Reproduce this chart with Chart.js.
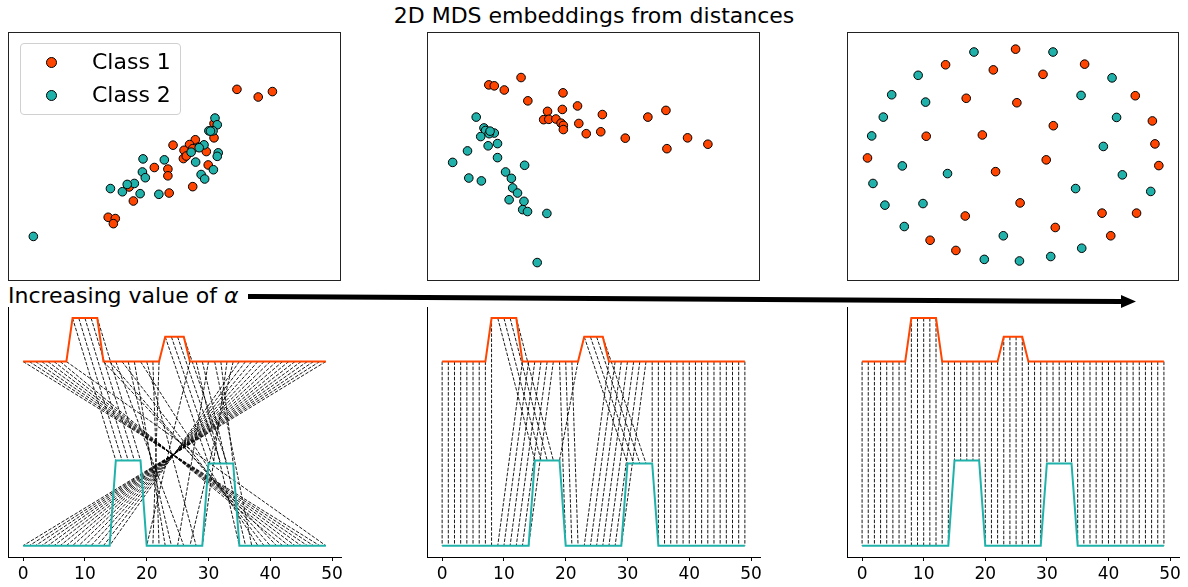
<!DOCTYPE html>
<html>
<head>
<meta charset="utf-8">
<script src="https://cdn.jsdelivr.net/npm/chart.js@4.4.0/dist/chart.umd.min.js"></script>
<style>
  body { margin: 0; width: 1188px; height: 587px; background: #fff; position: relative; overflow: hidden; font-family: 'DejaVu Sans', sans-serif; }
  .abs { position: absolute; }
  .box { position: absolute; box-sizing: border-box; border: 1px solid #222; }
  .box canvas { display: block; }
  #title { left: 0; width: 1188px; top: 5px; text-align: center; font-size: 22px; line-height: 22px; color: #000; }
  #alphaLabel { left: 8px; top: 285px; font-size: 22px; line-height: 22px; color: #000; }
  .legend { left: 20px; top: 43px; width: 161px; height: 72px; box-sizing: border-box; border: 1px solid #d0d0d0; border-radius: 4px; background: rgba(255,255,255,0.85); }
  .legend .dot { position: absolute; width: 9px; height: 9px; border: 1px solid #000; border-radius: 50%; }
  .legend .lbl { position: absolute; font-size: 22px; line-height: 22px; color: #000; }
</style>
</head>
<body>
<div id="title" class="abs">2D MDS embeddings from distances</div>

<div class="box" style="left:8px;top:32px;width:333px;height:249px"><canvas id="mds1" width="331" height="247"></canvas></div>
<div class="box" style="left:427px;top:32px;width:333px;height:249px"><canvas id="mds2" width="331" height="247"></canvas></div>
<div class="box" style="left:847px;top:32px;width:332px;height:249px"><canvas id="mds3" width="330" height="247"></canvas></div>

<div class="legend abs">
  <div class="dot" style="left:25px;top:13px;background:#ff4500"></div>
  <div class="lbl" style="left:71px;top:7px">Class 1</div>
  <div class="dot" style="left:25px;top:46px;background:#20b2aa"></div>
  <div class="lbl" style="left:71px;top:40px">Class 2</div>
</div>

<div id="alphaLabel" class="abs">Increasing value of <i>α</i></div>
<svg class="abs" style="left:0;top:0" width="1188" height="587">
  <polygon points="248,294 1121,299 1121,295 1136,301.5 1121,308 1121,304 248,299" fill="#000"/>
</svg>

<canvas id="plan1" class="abs" style="left:0px;top:295px" width="360" height="292"></canvas>
<canvas id="plan2" class="abs" style="left:415px;top:295px" width="360" height="292"></canvas>
<canvas id="plan3" class="abs" style="left:835px;top:295px" width="353" height="292"></canvas>

<script>
const ORANGE = '#ff4500';
const TEAL = '#20b2aa';

// MDS embeddings (arbitrary units, y grows downwards)
const mds1Class1 = [[717,199],[783,223],[827,206],[646,306],[646,351],[519,374],[588,357],[570,372],[553,390],[622,394],[551,416],[461,444],[503,449],[503,470],[628,436],[580,504],[507,524],[396,549],[383,505],[318,600],[340,604],[334,620],[598,380],[580,385],[560,408]];
const mds1Class2 = [[649,289],[656,310],[630,329],[643,329],[615,373],[600,382],[575,396],[659,398],[656,409],[589,427],[426,417],[492,420],[424,458],[433,476],[606,466],[617,480],[644,451],[399,494],[377,497],[325,510],[362,520],[417,526],[475,528],[86,660],[635,330]];

const mds2Class1 = [[296,162],[196,185],[213,188],[244,201],[317,235],[426,210],[378,268],[424,262],[471,251],[548,278],[366,294],[382,293],[404,292],[420,305],[427,312],[427,325],[475,306],[498,338],[543,332],[619,352],[689,286],[745,265],[748,385],[812,351],[875,371]];
const mds2Class2 = [[157,286],[181,320],[186,328],[213,336],[197,338],[171,347],[194,376],[223,369],[130,392],[223,413],[84,428],[307,437],[134,477],[173,486],[248,458],[266,478],[270,508],[285,524],[259,545],[305,550],[301,576],[316,582],[376,588],[346,742],[200,330]];

const mds3Class1 = [[527,73],[310,122],[458,138],[612,152],[741,120],[898,219],[374,227],[531,241],[951,298],[644,313],[250,346],[424,342],[959,370],[68,414],[622,420],[971,438],[465,457],[541,555],[371,596],[795,587],[902,587],[650,632],[262,672],[822,658],[342,704]];
const mds3Class2 = [[398,82],[643,82],[225,155],[826,163],[143,216],[248,239],[730,218],[117,286],[840,287],[81,345],[799,378],[176,439],[316,463],[858,467],[85,494],[713,510],[946,519],[122,562],[240,557],[182,629],[489,658],[732,697],[430,732],[539,737],[636,723]];

const mds1XLim = [27, 1020], mds2XLim = [24, 1017], mds3XLim = [24, 1014];
const mdsYLim = [39, 780];

// Source (top, shifted up) and target (bottom) signals
const sourceSignal = [2.16,2.16,2.16,2.16,2.16,2.16,2.16,2.16,2.67,2.67,2.67,2.67,2.67,2.16,2.16,2.16,2.16,2.16,2.16,2.16,2.16,2.16,2.16,2.45,2.45,2.45,2.45,2.16,2.16,2.16,2.16,2.16,2.16,2.16,2.16,2.16,2.16,2.16,2.16,2.16,2.16,2.16,2.16,2.16,2.16,2.16,2.16,2.16,2.16,2.16];
const targetSignal = [0,0,0,0,0,0,0,0,0,0,0,0,0,0,0,1,1,1,1,1,0,0,0,0,0,0,0,0,0,0,0.965,0.965,0.965,0.965,0.965,0,0,0,0,0,0,0,0,0,0,0,0,0,0,0];

// Transport plans: target index matched to each source index
const plan1 = [48,47,46,45,44,43,42,49,15,16,17,18,19,41,40,26,39,24,23,38,28,22,21,30,31,32,33,20,35,36,25,37,34,29,27,14,13,12,11,10,9,8,7,6,5,4,3,2,1,0];
const plan2 = [0,1,2,3,4,5,6,7,8,15,16,17,18,9,10,11,12,13,14,20,21,22,19,30,31,32,33,23,24,25,26,27,28,29,34,35,36,37,38,39,40,41,42,43,44,45,46,47,48,49];
const plan3 = [0,1,2,3,4,5,6,7,8,9,10,11,12,13,14,15,16,17,18,19,20,21,22,23,24,25,26,27,28,29,30,31,32,33,34,35,36,37,38,39,40,41,42,43,44,45,46,47,48,49];

const xTicks = [0, 10, 20, 30, 40, 50];

function mdsChart(id, class1, class2, xLim) {
    new Chart(document.getElementById(id), {
        type: 'scatter',
        data: {
            datasets: [
                { label: 'Class 2', data: class2.map(p => ({ x: p[0], y: p[1] })), backgroundColor: TEAL, borderColor: '#000', borderWidth: 1, pointRadius: 4.3, order: 0 },
                { label: 'Class 1', data: class1.map(p => ({ x: p[0], y: p[1] })), backgroundColor: ORANGE, borderColor: '#000', borderWidth: 1, pointRadius: 4.3, order: 1 }
            ]
        },
        options: {
            responsive: false,
            animation: false,
            events: [],
            layout: { padding: 0 },
            plugins: { legend: { display: false }, tooltip: { enabled: false } },
            scales: {
                x: { display: false, min: xLim[0], max: xLim[1] },
                y: { display: false, min: mdsYLim[0], max: mdsYLim[1], reverse: true }
            }
        }
    });
}

function planChart(id, plan, padLeft, padRight) {
    // one dashed dataset, segments separated by null gaps
    const links = [];
    plan.forEach((j, i) => {
        links.push({ x: i, y: sourceSignal[i] });
        links.push({ x: j, y: targetSignal[j] });
        links.push({ x: i, y: null });
    });
    new Chart(document.getElementById(id), {
        type: 'line',
        data: {
            datasets: [
                { data: sourceSignal.map((v, i) => ({ x: i, y: v })), borderColor: ORANGE, borderWidth: 2, pointRadius: 0, order: 0 },
                { data: targetSignal.map((v, i) => ({ x: i, y: v })), borderColor: TEAL, borderWidth: 2, pointRadius: 0, order: 0 },
                { data: links, borderColor: '#000', borderWidth: 0.9, borderDash: [3.5, 1.6], pointRadius: 0, spanGaps: false, order: 1 }
            ]
        },
        options: {
            responsive: false,
            animation: false,
            events: [],
            layout: { padding: { left: padLeft, right: padRight, top: 12, bottom: 0 } },
            plugins: { legend: { display: false }, tooltip: { enabled: false } },
            scales: {
                x: {
                    type: 'linear', min: -2.45, max: 51.45,
                    afterBuildTicks: axis => { axis.ticks = xTicks.map(v => ({ value: v })); },
                    afterFit: axis => { axis.height = 30; },
                    ticks: { font: { family: 'DejaVu Sans', size: 17 }, color: '#000', padding: 3, maxRotation: 0, autoSkip: false },
                    grid: { display: true, drawOnChartArea: false, drawTicks: true, tickLength: 4, tickColor: '#000', tickWidth: 1 },
                    border: { display: true, color: '#000', width: 1 }
                },
                y: {
                    min: -0.133, max: 2.80,
                    afterFit: axis => { axis.width = 0; },
                    ticks: { display: false },
                    grid: { display: true, drawOnChartArea: false, drawTicks: false },
                    border: { display: true, color: '#000', width: 1 }
                }
            }
        }
    });
}

mdsChart('mds1', mds1Class1, mds1Class2, mds1XLim);
mdsChart('mds2', mds2Class1, mds2Class2, mds2XLim);
mdsChart('mds3', mds3Class1, mds3Class2, mds3XLim);

planChart('plan1', plan1, 8, 19);
planChart('plan2', plan2, 12, 15);
planChart('plan3', plan3, 12, 9);
</script>
</body>
</html>
